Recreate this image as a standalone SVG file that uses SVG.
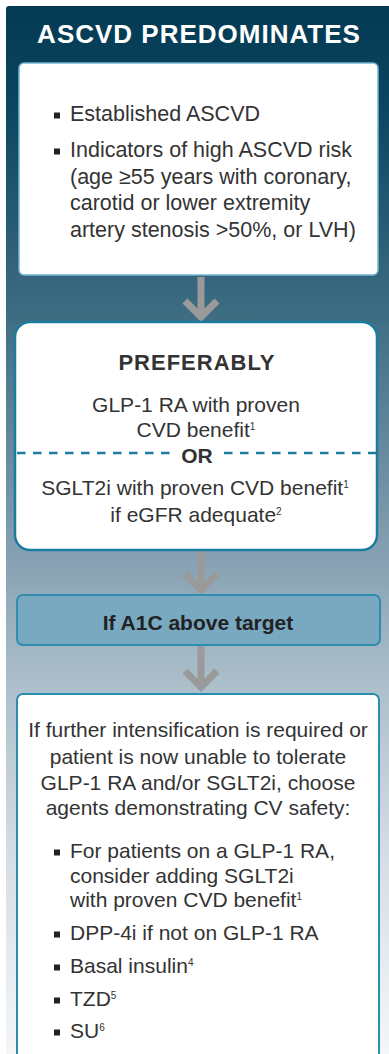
<svg xmlns="http://www.w3.org/2000/svg" width="389" height="1054" viewBox="0 0 389 1054">
<defs>
<linearGradient id="bg" x1="0" y1="0" x2="0" y2="1054" gradientUnits="userSpaceOnUse">
<stop offset="0" stop-color="#043a52"/>
<stop offset="0.1" stop-color="#0b4560"/>
<stop offset="0.3" stop-color="#3e6d83"/>
<stop offset="0.52" stop-color="#849fb1"/>
<stop offset="0.66" stop-color="#afc1cc"/>
<stop offset="0.82" stop-color="#d6dfe5"/>
<stop offset="1" stop-color="#f4f6f8"/>
</linearGradient>
<style>
.t{font-family:"Liberation Sans",Arial,sans-serif;font-size:21px;fill:#333}
.c{text-anchor:middle}
.b{font-weight:bold}
.sup{font-size:10px}
.bul{fill:#222}
.arr{fill:none;stroke:#9a9a9a;stroke-width:7}
.box{fill:#fff;stroke:#2a8cb0;stroke-width:2}
</style>
</defs>
<rect x="6" y="6" width="400" height="1070" rx="3" fill="url(#bg)"/>
<text x="199" y="43" class="t c b" style="font-size:26px;fill:#fff;letter-spacing:1px">ASCVD PREDOMINATES</text>

<g id="connectors">
<path class="arr" d="M201 277V314M185 301L201 317L217 301"/>
<path class="arr" d="M201 551V587M185 574L201 590L217 574"/>
<path class="arr" d="M201 645V684M185 671L201 687L217 671"/>
</g>

<g id="box1">
<rect x="19" y="63" width="359" height="212" rx="5" fill="#fff" stroke="#72b6d2" stroke-width="1.5"/>
<rect class="bul" x="54" y="112.5" width="6" height="6"/>
<rect class="bul" x="54" y="148.5" width="6" height="6"/>
<text class="t" x="70" y="121" style="font-size:21.5px">Established ASCVD</text>
<text class="t" x="70" y="157" style="font-size:21.5px">Indicators of high ASCVD risk</text>
<text class="t" x="70" y="183.5" style="font-size:21.5px">(age ≥55 years with coronary,</text>
<text class="t" x="70" y="210" style="font-size:21.5px">carotid or lower extremity</text>
<text class="t" x="70" y="236.5" style="font-size:21.5px">artery stenosis &gt;50%, or LVH)</text>
</g>

<g id="box2">
<rect x="15" y="322" width="362" height="228" rx="15" fill="#fff" stroke="#1b7c9e" stroke-width="2.5"/>
<text class="t c b" x="197" y="370" style="font-size:22px;letter-spacing:1px">PREFERABLY</text>
<text class="t c" x="196" y="412">GLP-1 RA with proven</text>
<text class="t c" x="196" y="437">CVD benefit<tspan class="sup" dy="-7">1</tspan></text>
<path d="M17 453H172M224 453H377" stroke="#1b7c9e" stroke-width="2.5" stroke-dasharray="8.5 7.5" fill="none"/>
<text class="t c b" x="197" y="463">OR</text>
<text class="t c" x="195" y="495">SGLT2i with proven CVD benefit<tspan class="sup" dy="-7">1</tspan></text>
<text class="t c" x="196" y="522">if eGFR adequate<tspan class="sup" dy="-7">2</tspan></text>
</g>

<g id="box3">
<rect x="17" y="595" width="363" height="50" rx="6" fill="#79a8c1" stroke="#2f8db0" stroke-width="2"/>
<text class="t c b" x="198" y="630" style="fill:#222">If A1C above target</text>
</g>

<g id="box4">
<rect class="box" x="17" y="694" width="362" height="380" rx="6"/>
<text class="t c" x="198" y="737">If further intensification is required or</text>
<text class="t c" x="198" y="764">patient is now unable to tolerate</text>
<text class="t c" x="198" y="790">GLP-1 RA and/or SGLT2i, choose</text>
<text class="t c" x="198" y="815">agents demonstrating CV safety:</text>
<rect class="bul" x="54" y="849.5" width="6" height="6"/>
<text class="t" x="70" y="858">For patients on a GLP-1 RA,</text>
<text class="t" x="70" y="883">consider adding SGLT2i</text>
<text class="t" x="70" y="907">with proven CVD benefit<tspan class="sup" dy="-7">1</tspan></text>
<rect class="bul" x="54" y="931.5" width="6" height="6"/>
<text class="t" x="70" y="940">DPP-4i if not on GLP-1 RA</text>
<rect class="bul" x="54" y="964.5" width="6" height="6"/>
<text class="t" x="70" y="973">Basal insulin<tspan class="sup" dy="-7">4</tspan></text>
<rect class="bul" x="54" y="997.5" width="6" height="6"/>
<text class="t" x="70" y="1006">TZD<tspan class="sup" dy="-7">5</tspan></text>
<rect class="bul" x="54" y="1029.5" width="6" height="6"/>
<text class="t" x="70" y="1038">SU<tspan class="sup" dy="-7">6</tspan></text>
</g>
</svg>
